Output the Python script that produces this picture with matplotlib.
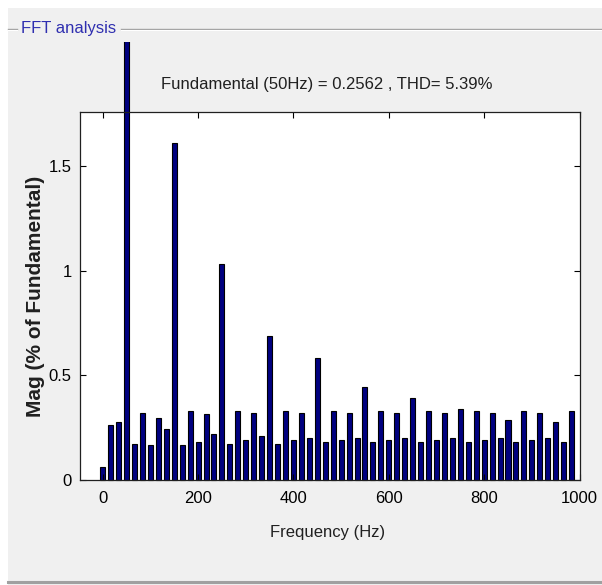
import numpy as np
import matplotlib
matplotlib.use('Agg')
import matplotlib.pyplot as plt
from matplotlib.patches import Rectangle
from matplotlib.lines import Line2D
from matplotlib.transforms import Bbox, TransformedBbox

# FFT bins: 50/3 Hz resolution, 60 bins from 0 Hz
freq_res = 50 / 3
n_bins = 60
freqs = np.arange(n_bins) * freq_res

# magnitude of each bin in % of the fundamental (50 Hz bin = 100 %)
mag = [0.061, 0.259, 0.277, 100.0, 0.172, 0.320, 0.164, 0.296, 0.244, 1.613,
       0.164, 0.330, 0.180, 0.312, 0.217, 1.034, 0.172, 0.330, 0.190, 0.320,
       0.207, 0.685, 0.172, 0.330, 0.190, 0.320, 0.199, 0.580, 0.180, 0.330,
       0.190, 0.320, 0.199, 0.442, 0.180, 0.330, 0.190, 0.320, 0.199, 0.389,
       0.180, 0.330, 0.190, 0.320, 0.199, 0.338, 0.180, 0.330, 0.190, 0.320,
       0.199, 0.286, 0.180, 0.330, 0.190, 0.320, 0.199, 0.277, 0.180, 0.330]

fundamental = 0.2562
thd = 5.39

xticks = [0, 200, 400, 600, 800, 1000]
yticks = [0, 0.5, 1, 1.5]
ytick_labels = ['0', '0.5', '1', '1.5']

W, H = 602, 585
sans = ['Liberation Sans', 'DejaVu Sans']


def fx(x):
    return x / W


def fy(y):
    return 1 - y / H


fig = plt.figure(figsize=(W / 100, H / 100), dpi=100, facecolor='white')
fig.patches.append(Rectangle((fx(8), 0), 1, fy(8), transform=fig.transFigure,
                             facecolor='#f0f0f0', edgecolor='none', zorder=-5))

# panel frame (etched line at top, broken by the title, and at the bottom)
for x0, x1 in [(8, 17), (121, W)]:
    fig.add_artist(Line2D([fx(x0), fx(x1)], [fy(29), fy(29)], color='#a0a0a0', lw=1.0))
    fig.add_artist(Line2D([fx(x0), fx(x1)], [fy(30.2), fy(30.2)], color='white', lw=0.8))
fig.add_artist(Line2D([fx(8), 1], [fy(581.5), fy(581.5)], color='#a0a0a0', lw=2.2))
fig.text(fx(21), fy(29), 'FFT analysis', color='#2f2fb0', fontsize=12,
         family=sans, ha='left', va='center')

ax = fig.add_axes([fx(80), fy(479.5), 500 / W, (479.5 - 112) / H])
ax.set_facecolor('white')

bars = ax.bar(freqs, mag, width=10.5, color='#000080', edgecolor='black', linewidth=0.8)
# the fundamental bar runs above the axes up to the panel title area
clip = TransformedBbox(Bbox([[0, 0], [1, fy(42)]]), fig.transFigure)
for b in bars:
    b.set_clip_box(clip)

ax.set_xlim(-47.6, 1001)
ax.set_ylim(0, 1.76)
ax.set_xticks(xticks)
ax.set_yticks(yticks)
ax.set_yticklabels(ytick_labels)
ax.tick_params(direction='in', length=4, width=0.8, top=True, right=True,
               labelsize=12, pad=6)
ax.tick_params(axis='x', pad=8)
for lab in ax.get_xticklabels() + ax.get_yticklabels():
    lab.set_family(sans)
for sp in ax.spines.values():
    sp.set_linewidth(0.9)
    sp.set_color('#202020')

fig.text(fx(327), fy(85), f'Fundamental (50Hz) = {fundamental} , THD= {thd}%',
         fontsize=12, family=sans, ha='center', va='center', color='#202020')
fig.text(fx(328), fy(533), 'Frequency (Hz)', fontsize=12, family=sans,
         ha='center', va='center', color='#202020')
fig.text(fx(36), fy(296), 'Mag (% of Fundamental)', fontsize=15,
         family=sans, fontweight='bold',
         rotation=90, ha='center', va='center', color='#202020')

fig.savefig('out.png', dpi=100, facecolor=fig.get_facecolor())
